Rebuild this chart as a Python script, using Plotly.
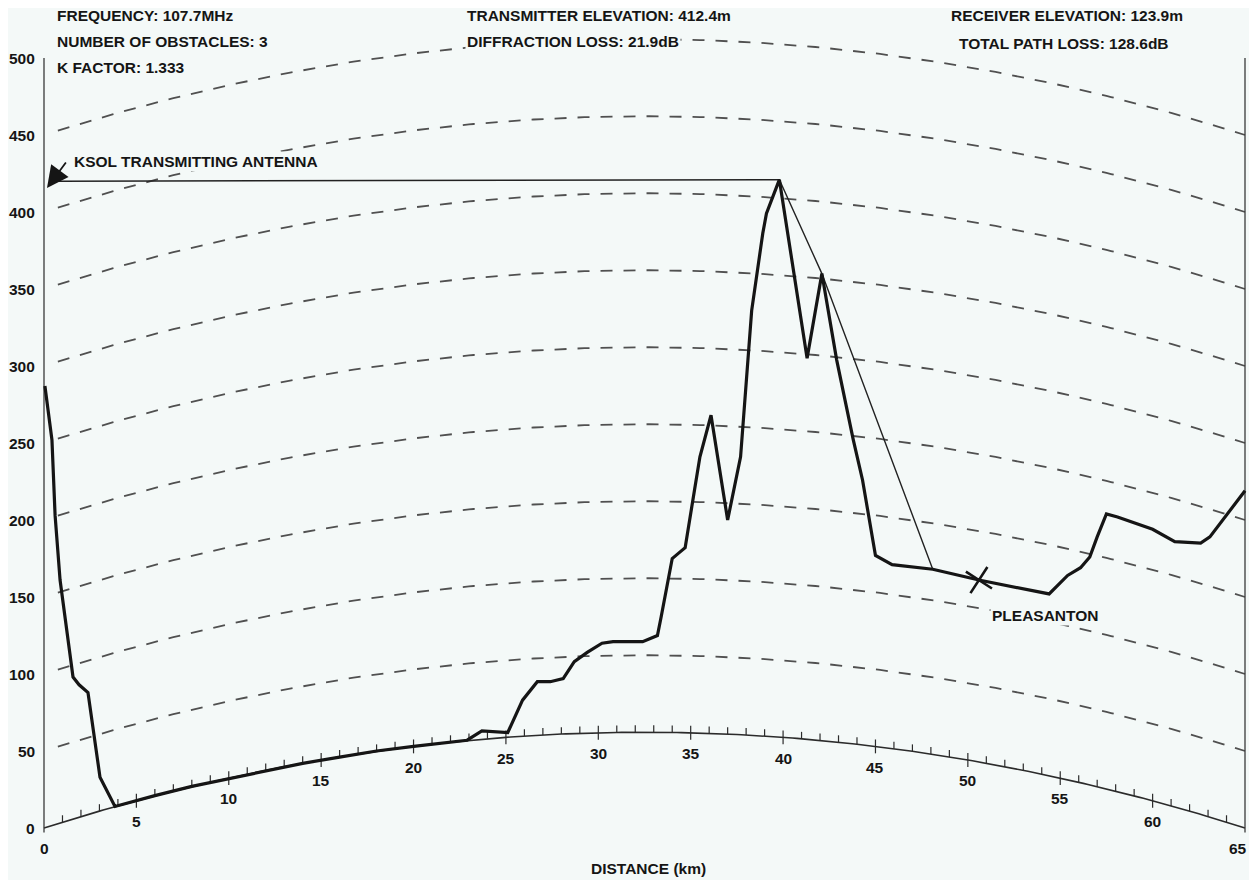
import plotly.graph_objects as go

# ── page geometry (scan pixels; the browser page adds an 8px body margin) ────
PAGE_W, PAGE_H = 1257, 880
OFF = 8
W, H = PAGE_W - OFF, PAGE_H - OFF
X0_PX, X1_PX = 44, 1245        # 0 km / 65 km
Y0_PX, Y500_PX = 828, 58       # 0 m / 500 m
PATH_KM = 65
K_FACTOR = 1.333
EARTH_R_KM = 6371.0

BG = "#f4f9f8"
INK = "#151515"
FONT = "Liberation Sans"

# ── data ──────────────────────────────────────────────────────────────────────
# terrain profile as drawn on the curved-earth chart (km, m)
PROFILE_KM = [0.05, 0.43, 0.6, 0.87, 1.57, 1.9, 2.38, 3.03, 3.84, 5, 6, 8, 10, 12,
              14, 16, 18, 20, 22, 22.9, 23.7, 25.1, 25.9, 26.7, 27.4, 28.1, 28.7,
              29.4, 30.2, 30.8, 32.4, 33.2, 33.4, 34.0, 34.3, 34.7, 35.2, 35.5,
              36.1, 37.0, 37.7, 38.0, 38.3, 38.9, 39.1, 39.8, 41.3, 42.1, 42.9,
              43.8, 44.3, 45.0, 45.9, 48.1, 50.6, 54.4, 55.4, 56.1, 56.6, 57.0,
              57.5, 58.1, 60.0, 61.2, 62.6, 63.1, 63.8, 65.0]
PROFILE_M = [287, 252, 203, 161, 98, 93, 88, 33, 14, 18, 21, 27, 32, 37,
             42, 46, 50, 53, 56, 57, 63, 62, 83, 95, 95, 97, 108,
             114, 120, 121, 121, 125, 137, 175, 178, 182, 219, 241,
             268, 200, 241, 291, 336, 386, 399, 421, 305, 360, 304,
             252, 226, 177, 171, 168, 161, 152, 164, 169, 176, 189,
             204, 202, 194, 186, 185, 189, 200, 219]

# line of sight: antenna -> first obstacle -> second obstacle -> end
LOS_KM = [0.75, 39.8, 42.1, 48.1]
LOS_M = [420, 421, 360, 168]

RX_KM, RX_M = 50.6, 161

Y_TICKS = [0, 50, 100, 150, 200, 250, 300, 350, 400, 450, 500]
ARC_LEVELS = [50, 100, 150, 200, 250, 300, 350, 400, 450]
KM_LABELS = [0, 5, 10, 15, 20, 25, 30, 35, 40, 45, 50, 55, 60, 65]

HEADER = [
    ("FREQUENCY: 107.7MHz", 55, 15),
    ("NUMBER OF OBSTACLES: 3", 55, 41),
    ("K FACTOR: 1.333", 55, 67),
    ("TRANSMITTER ELEVATION: 412.4m", 465, 15),
    ("DIFFRACTION LOSS: 21.9dB", 465, 41),
    ("RECEIVER ELEVATION: 123.9m", 949, 15),
    ("TOTAL PATH LOSS: 128.6dB", 957, 43),
]

# ── helpers ───────────────────────────────────────────────────────────────────
PX_PER_KM = (X1_PX - X0_PX) / PATH_KM
PX_PER_M = (Y0_PX - Y500_PX) / 500.0


def bulge(d):
    """Earth bulge (m) at d km for the given k factor."""
    return d * (PATH_KM - d) / (2 * K_FACTOR * EARTH_R_KM) * 1000.0


def km_at(px):
    return (px - X0_PX) / PX_PER_KM


def m_at(py):
    return (Y0_PX - py) / PX_PER_M


steps = [i * 0.25 for i in range(int(PATH_KM / 0.25) + 1)]

fig = go.Figure()

# dashed constant-elevation arcs
for lvl in ARC_LEVELS:
    xs = [d for d in steps if d >= 0.7]
    fig.add_scatter(x=xs, y=[lvl + bulge(d) for d in xs], mode="lines",
                    line=dict(color="#505050", width=1.8, dash="12px,11px"),
                    hoverinfo="skip", showlegend=False)

# earth arc with km ticks
fig.add_scatter(x=steps, y=[bulge(d) for d in steps], mode="lines",
                line=dict(color="#2b2b2b", width=1.6), hoverinfo="skip", showlegend=False)
tx, ty = [], []
for d in range(1, PATH_KM):
    b = bulge(d)
    lo = b - 4.5 if d % 5 == 0 else b
    tx += [d, d, None]
    ty += [lo, b + 4.5, None]
fig.add_scatter(x=tx, y=ty, mode="lines", line=dict(color="#2b2b2b", width=1.2),
                hoverinfo="skip", showlegend=False)

# side axes
for d in (0, PATH_KM):
    fig.add_scatter(x=[d, d], y=[-3, 500], mode="lines",
                    line=dict(color="#3a3a3a", width=1.3), hoverinfo="skip", showlegend=False)

# line of sight / diffraction path
fig.add_scatter(x=LOS_KM, y=LOS_M, mode="lines", line=dict(color="#222", width=1.4),
                hoverinfo="skip", showlegend=False)

# terrain profile
fig.add_scatter(x=PROFILE_KM, y=PROFILE_M, mode="lines",
                line=dict(color=INK, width=3.2), hoverinfo="skip", showlegend=False)

# receiver
fig.add_scatter(x=[RX_KM], y=[RX_M], mode="markers",
                marker=dict(symbol="x-thin", size=22, angle=-12,
                            line=dict(color=INK, width=2.6)),
                hoverinfo="skip", showlegend=False)

ann = []
lab_font = dict(family=FONT, size=15.5, color=INK, weight="bold")

for v in Y_TICKS:
    ann.append(dict(x=km_at(37), y=v, xref="x", yref="y", text=str(v), showarrow=False,
                    xanchor="right", yanchor="middle", font=lab_font))

for d in KM_LABELS:
    ann.append(dict(x=min(d, 64.6), y=bulge(d) - 13.5, xref="x", yref="y", text=str(d),
                    showarrow=False, xanchor="center", yanchor="middle", font=lab_font))

for text, px, py in HEADER:
    ann.append(dict(x=km_at(px), y=m_at(py), xref="x", yref="y", text=text,
                    showarrow=False, xanchor="left", yanchor="middle", font=lab_font,
                    bgcolor=BG, borderpad=1))

ann.append(dict(x=km_at(648), y=m_at(868), xref="x", yref="y", text="DISTANCE (km)",
                showarrow=False, xanchor="center", yanchor="middle", font=lab_font))

ann.append(dict(x=km_at(72), y=m_at(161), xref="x", yref="y", text="KSOL TRANSMITTING ANTENNA",
                showarrow=False, xanchor="left", yanchor="middle", font=lab_font,
                bgcolor=BG, borderpad=1))
ann.append(dict(x=km_at(47), y=m_at(188), xref="x", yref="y", text="", showarrow=True,
                ax=20, ay=-27, arrowhead=2, arrowsize=2.4, arrowwidth=1.8, arrowcolor=INK))

ann.append(dict(x=km_at(1045), y=m_at(615), xref="x", yref="y", text="PLEASANTON",
                showarrow=False, xanchor="center", yanchor="middle", font=lab_font,
                bgcolor=BG, borderpad=1))

fig.update_layout(
    width=W, height=H, margin=dict(l=0, r=0, t=0, b=0),
    paper_bgcolor=BG, plot_bgcolor=BG, showlegend=False,
    xaxis=dict(range=[km_at(OFF), km_at(PAGE_W)], visible=False, fixedrange=True),
    yaxis=dict(range=[m_at(PAGE_H), m_at(OFF)], visible=False, fixedrange=True),
    annotations=ann,
)

fig.write_html("out.html", config={"displayModeBar": False})
